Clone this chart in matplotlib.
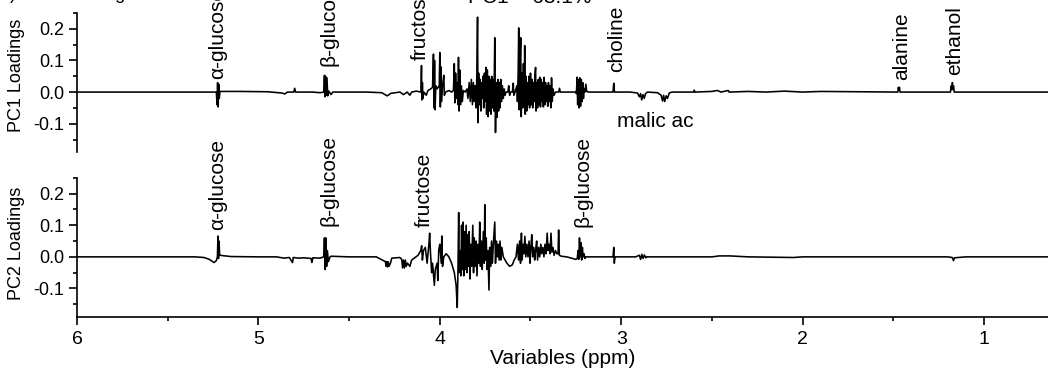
import matplotlib
matplotlib.use("Agg")
import matplotlib.pyplot as plt
from matplotlib.ticker import MultipleLocator, FormatStrFormatter
import numpy as np

plt.rcParams['font.family'] = ['Liberation Sans', 'DejaVu Sans']
plt.rcParams['axes.unicode_minus'] = False

# loadings, (ppm, loading)
pc1_trace = [
    (6.00, 0.0), (5.30, 0.0), (5.232, 0.0), (5.228, -0.04), (5.225, 0.03), (5.222, -0.047),
    (5.219, 0.025), (5.216, -0.02), (5.212, 0.002), (5.10, 0.002), (4.95, 0.001), (4.87, -0.003),
    (4.855, -0.006), (4.84, 0.0), (4.805, 0.0), (4.800, 0.012), (4.795, 0.0), (4.70, 0.0),
    (4.66, -0.002), (4.640, 0.0), (4.636, 0.053), (4.633, -0.015), (4.630, 0.05), (4.627, -0.01),
    (4.622, 0.045), (4.618, -0.012), (4.612, 0.003), (4.600, -0.008), (4.590, 0.0), (4.40, 0.0),
    (4.32, -0.002), (4.29, -0.012), (4.27, -0.004), (4.22, 0.0), (4.20, -0.008), (4.18, 0.0),
    (4.165, -0.01), (4.155, 0.0), (4.13, 0.003),
    # fructose / sugar region
    (4.104, 0.0), (4.101, 0.084), (4.099, -0.025), (4.096, 0.03), (4.093, -0.02), (4.088, 0.0),
    (4.075, -0.01), (4.065, 0.005), (4.050, 0.01), (4.040, 0.015), (4.035, 0.12), (4.032, -0.05),
    (4.029, 0.10), (4.026, -0.056), (4.022, 0.02), (4.015, 0.01), (4.003, 0.02), (4.000, 0.125),
    (3.997, -0.047), (3.994, 0.08), (3.991, -0.03), (3.985, 0.02), (3.978, 0.053), (3.975, -0.01),
    (3.968, 0.0), (3.950, 0.005), (3.935, 0.0), (3.925, 0.005), (3.920, 0.09), (3.917, -0.034),
    (3.913, 0.06), (3.908, -0.02), (3.903, 0.03), (3.900, -0.04), (3.897, 0.11), (3.894, -0.06),
    (3.890, 0.07), (3.886, -0.04), (3.881, 0.02), (3.876, -0.03), (3.870, 0.005), (3.860, 0.0),
    (3.850, 0.01), (3.845, -0.02), (3.838, 0.03), (3.832, -0.03), (3.826, 0.04), (3.820, -0.04),
    (3.815, 0.03), (3.810, -0.03), (3.805, 0.02), (3.800, -0.05), (3.796, 0.05), (3.792, 0.237),
    (3.789, -0.097), (3.786, 0.06), (3.782, -0.04), (3.778, 0.04), (3.774, -0.06), (3.770, 0.03),
    (3.766, -0.02), (3.762, 0.05), (3.758, -0.05), (3.754, 0.06), (3.750, -0.03), (3.746, 0.078),
    (3.742, -0.07), (3.738, 0.07), (3.734, -0.078), (3.730, 0.05), (3.726, -0.06), (3.722, 0.04),
    (3.718, -0.07), (3.714, 0.05), (3.710, -0.05), (3.706, 0.04), (3.702, -0.06), (3.697, 0.172),
    (3.693, -0.128), (3.689, 0.03), (3.685, -0.08), (3.680, 0.04), (3.676, -0.06), (3.672, 0.03),
    (3.668, -0.05), (3.664, 0.04), (3.660, -0.03), (3.655, 0.02), (3.650, -0.02), (3.645, 0.01),
    (3.640, -0.01), (3.635, 0.0), (3.625, 0.0), (3.620, 0.02), (3.615, -0.01), (3.610, 0.0),
    (3.600, 0.0), (3.595, 0.028), (3.592, -0.01), (3.585, 0.0), (3.575, 0.02), (3.572, -0.03),
    (3.568, 0.06), (3.565, 0.203), (3.562, -0.056), (3.558, 0.08), (3.554, 0.172), (3.551, -0.078),
    (3.547, 0.06), (3.543, -0.05), (3.539, 0.09), (3.535, -0.04), (3.532, 0.147), (3.529, -0.07),
    (3.525, 0.05), (3.521, -0.06), (3.517, 0.03), (3.513, -0.04), (3.509, 0.05), (3.505, -0.05),
    (3.500, 0.06), (3.496, -0.04), (3.492, 0.04), (3.488, -0.05), (3.484, 0.03), (3.480, -0.03),
    (3.476, 0.05), (3.472, 0.078), (3.469, -0.06), (3.465, 0.03), (3.461, -0.05), (3.457, 0.04),
    (3.453, -0.04), (3.449, 0.047), (3.445, -0.047), (3.441, 0.04), (3.437, -0.03), (3.433, 0.03),
    (3.429, -0.047), (3.425, 0.047), (3.421, -0.04), (3.417, 0.03), (3.413, -0.03), (3.409, 0.02),
    (3.405, -0.045), (3.401, 0.03), (3.397, -0.03), (3.393, 0.02), (3.388, -0.05), (3.384, 0.045),
    (3.380, -0.03), (3.376, 0.01), (3.370, -0.01), (3.362, 0.0), (3.345, 0.0), (3.340, 0.012),
    (3.336, 0.0), (3.30, 0.0), (3.25, 0.0), (3.247, -0.005), (3.243, 0.047), (3.240, -0.04),
    (3.236, 0.04), (3.232, -0.05), (3.228, 0.045), (3.224, -0.045), (3.220, 0.04), (3.216, -0.03),
    (3.212, 0.03), (3.208, -0.02), (3.204, 0.01), (3.200, 0.0), (3.195, 0.025), (3.190, 0.002),
    (3.180, 0.0),
    # choline, malic acid and the aliphatic part
    (3.045, 0.0), (3.041, 0.028), (3.037, 0.0), (2.95, 0.0), (2.91, -0.003), (2.900, -0.015),
    (2.893, -0.005), (2.887, -0.025), (2.880, -0.008), (2.873, -0.02), (2.866, -0.005), (2.855, 0.0),
    (2.80, -0.002), (2.78, -0.01), (2.772, -0.028), (2.766, -0.01), (2.760, -0.03), (2.752, -0.012),
    (2.745, -0.02), (2.735, -0.003), (2.72, 0.0), (2.60, 0.0), (2.597, 0.006), (2.594, 0.0),
    (2.50, 0.002), (2.47, 0.005), (2.45, 0.0), (2.41, 0.005), (2.405, 0.0), (2.30, 0.002),
    (2.20, 0.0), (2.10, 0.003), (2.00, 0.0), (1.90, 0.002), (1.475, 0.0), (1.472, 0.015),
    (1.469, 0.008), (1.466, 0.015), (1.463, 0.0), (1.185, 0.0), (1.180, 0.02), (1.177, 0.008),
    (1.174, 0.03), (1.171, 0.008), (1.168, 0.02), (1.164, 0.0), (1.00, 0.0), (0.60, 0.0),
]

pc2_trace = [
    (6.00, 0.0), (5.35, 0.0), (5.30, -0.002), (5.27, -0.008), (5.245, -0.018), (5.232, -0.012),
    (5.226, 0.0), (5.223, 0.066), (5.220, -0.005), (5.217, 0.05), (5.214, 0.006), (5.20, 0.004),
    (5.15, 0.001), (5.00, 0.0), (4.90, 0.0), (4.86, -0.004), (4.83, -0.002), (4.812, -0.018),
    (4.808, -0.002), (4.78, -0.004), (4.75, -0.003), (4.71, -0.005), (4.705, -0.018), (4.70, -0.003),
    (4.66, -0.004), (4.640, 0.0), (4.636, 0.06), (4.632, -0.04), (4.628, 0.06), (4.624, -0.03),
    (4.620, 0.02), (4.614, -0.015), (4.605, 0.0), (4.60, 0.002), (4.50, 0.0), (4.35, 0.0),
    (4.30, -0.015), (4.296, -0.03), (4.292, -0.015), (4.288, -0.032), (4.284, -0.016), (4.280, -0.03),
    (4.272, -0.02), (4.265, -0.004), (4.22, -0.002), (4.210, -0.008), (4.205, -0.035), (4.200, -0.01),
    (4.195, -0.035), (4.190, -0.01), (4.185, -0.03), (4.178, -0.02), (4.165, -0.03), (4.155, -0.01),
    (4.12, 0.005),
    # sugar region
    (4.105, 0.02), (4.100, 0.035), (4.096, -0.01), (4.090, 0.02), (4.080, 0.03), (4.070, -0.02),
    (4.060, 0.04), (4.056, 0.075), (4.052, 0.02), (4.045, -0.05), (4.040, -0.02), (4.030, -0.09),
    (4.025, -0.04), (4.015, -0.02), (4.011, -0.075), (4.006, 0.02), (4.000, 0.04), (3.992, -0.02),
    (3.989, 0.066), (3.985, -0.03), (3.978, 0.0), (3.965, 0.01), (3.950, 0.0), (3.935, -0.02),
    (3.920, -0.05), (3.910, -0.09), (3.904, -0.16), (3.900, -0.05), (3.896, 0.14), (3.893, -0.05),
    (3.888, 0.02), (3.884, -0.06), (3.880, 0.1), (3.876, -0.04), (3.872, 0.11), (3.868, -0.06),
    (3.864, 0.08), (3.860, -0.04), (3.855, 0.1), (3.850, -0.05), (3.846, 0.07), (3.842, -0.03),
    (3.838, 0.08), (3.834, -0.07), (3.830, 0.04), (3.825, -0.03), (3.818, 0.1), (3.814, -0.05),
    (3.810, 0.06), (3.805, -0.03), (3.800, 0.05), (3.795, -0.06), (3.790, 0.04), (3.784, -0.02),
    (3.780, 0.11), (3.776, -0.03), (3.770, 0.05), (3.766, -0.04), (3.760, 0.08), (3.755, -0.02),
    (3.752, 0.165), (3.748, -0.01), (3.744, 0.06), (3.740, -0.04), (3.735, 0.02), (3.729, -0.105),
    (3.725, 0.03), (3.720, -0.03), (3.715, 0.05), (3.710, -0.02), (3.705, 0.04), (3.697, 0.11),
    (3.693, -0.02), (3.688, 0.05), (3.683, 0.0), (3.678, 0.04), (3.673, -0.01), (3.668, 0.05),
    (3.663, -0.01), (3.658, 0.03), (3.650, 0.0), (3.640, -0.01), (3.630, -0.02), (3.615, -0.03),
    (3.600, -0.025), (3.590, -0.01), (3.580, 0.0), (3.572, 0.04), (3.566, -0.01), (3.560, 0.05),
    (3.555, -0.02), (3.550, 0.075), (3.546, -0.01), (3.541, 0.04), (3.536, 0.01), (3.531, 0.065),
    (3.526, 0.0), (3.520, 0.04), (3.514, 0.0), (3.508, 0.05), (3.503, -0.02), (3.498, 0.03),
    (3.493, 0.07), (3.488, 0.0), (3.482, 0.03), (3.477, -0.01), (3.472, 0.02), (3.466, 0.05),
    (3.461, -0.01), (3.455, 0.03), (3.449, 0.0), (3.443, 0.04), (3.438, 0.01), (3.432, 0.03),
    (3.426, 0.0), (3.420, 0.04), (3.414, 0.01), (3.408, 0.075), (3.403, 0.02), (3.398, 0.04),
    (3.392, 0.01), (3.387, 0.075), (3.382, 0.015), (3.376, 0.03), (3.370, 0.005), (3.362, 0.02),
    (3.355, 0.01), (3.348, 0.01), (3.345, 0.085), (3.341, 0.005), (3.330, 0.002), (3.30, 0.0),
    (3.27, -0.005), (3.250, -0.008), (3.242, -0.005), (3.238, 0.02), (3.234, -0.008), (3.230, 0.06),
    (3.226, 0.0), (3.222, 0.045), (3.218, -0.01), (3.214, 0.03), (3.210, 0.0), (3.205, 0.01),
    (3.200, -0.005), (3.195, 0.0),
    # aliphatic part
    (3.10, 0.0), (3.045, 0.0), (3.041, 0.03), (3.038, -0.02), (3.034, 0.0), (2.92, 0.0),
    (2.90, 0.005), (2.893, -0.008), (2.886, 0.008), (2.880, -0.005), (2.872, 0.006), (2.865, -0.003),
    (2.86, 0.0), (2.50, 0.0), (2.46, 0.003), (2.40, 0.003), (2.30, 0.0), (2.05, -0.002),
    (2.00, 0.0), (1.50, 0.0), (1.20, 0.0), (1.175, -0.002), (1.168, -0.012), (1.163, -0.003),
    (1.10, 0.0), (0.60, 0.0),
]

# metabolite labels: text, ppm, loading at bottom of label
pc1_labels = ['α-glucose', 'β-glucose', 'fructose', 'choline', 'alanine', 'ethanol']
pc1_label_ppm = [5.223, 4.612, 4.110, 3.025, 1.455, 1.163]
pc1_label_y = [0.040, 0.084, 0.100, 0.062, 0.037, 0.053]

pc2_labels = ['α-glucose', 'β-glucose', 'fructose', 'β-glucose']
pc2_label_ppm = [5.223, 4.612, 4.083, 3.212]
pc2_label_y = [0.084, 0.097, 0.094, 0.094]

malic_text = 'malic ac'
malic_ppm = 3.025
malic_y = -0.094

x_ticks = [6, 5, 4, 3, 2, 1]
y_ticks = [-0.1, 0.0, 0.1, 0.2]


def style_axis(ax, show_x):
    ax.set_xlim(6, 0.647)
    ax.set_ylim(-0.19, 0.25)
    for s in ['top', 'right']:
        ax.spines[s].set_visible(False)
    ax.spines['left'].set_linewidth(1.2)
    ax.spines['bottom'].set_linewidth(1.2)
    ax.set_yticks(y_ticks)
    ax.yaxis.set_minor_locator(MultipleLocator(0.05))
    ax.yaxis.set_major_formatter(FormatStrFormatter('%.1f'))
    ax.tick_params(axis='y', which='major', direction='out', length=6, width=1.2, labelsize=13, pad=3)
    ax.tick_params(axis='y', which='minor', direction='out', length=3, width=1.2)
    if show_x:
        ax.set_xticks(x_ticks)
        ax.xaxis.set_minor_locator(MultipleLocator(0.5))
        ax.tick_params(axis='x', which='major', direction='out', length=6, width=1.2, labelsize=14, pad=4)
        ax.tick_params(axis='x', which='minor', direction='out', length=3, width=1.2)
    else:
        ax.spines['bottom'].set_visible(False)
        ax.set_xticks([])
        ax.tick_params(axis='x', which='both', bottom=False, labelbottom=False)


fig = plt.figure(figsize=(10.48, 3.72), dpi=100)
ax1 = fig.add_axes([0.0735, 0.591, 0.9265, 0.374])
ax2 = fig.add_axes([0.0735, 0.148, 0.9265, 0.374])

x1, y1 = zip(*pc1_trace)
x2, y2 = zip(*pc2_trace)
ax1.plot(x1, y1, color='black', lw=1.15)
ax2.plot(x2, y2, color='black', lw=1.15)

style_axis(ax1, False)
style_axis(ax2, True)

for t, p, v in zip(pc1_labels, pc1_label_ppm, pc1_label_y):
    ax1.text(p, v, t, rotation=90, ha='center', va='bottom', fontsize=15, clip_on=False)
for t, p, v in zip(pc2_labels, pc2_label_ppm, pc2_label_y):
    ax2.text(p, v, t, rotation=90, ha='center', va='bottom', fontsize=15, clip_on=False)
ax1.text(malic_ppm, malic_y, malic_text, ha='left', va='center', fontsize=15)

ax1.set_ylabel('PC1 Loadings', fontsize=13)
ax2.set_ylabel('PC2 Loadings', fontsize=13)
ax1.yaxis.set_label_coords(-0.054, 0.55)
ax2.yaxis.set_label_coords(-0.054, 0.53)
ax2.set_xlabel('Variables (ppm)', fontsize=15, labelpad=1)

# headings that sit mostly above the cropped picture
fig.text(0.0, 1 + 1 / 372, 'a) PC1 Loadings', ha='left', va='baseline', fontsize=13)
fig.text(530 / 1048, 1 - 3 / 372, 'PC1 = 68.1%', ha='center', va='baseline', fontsize=15)

fig.savefig('out.png', dpi=100)
